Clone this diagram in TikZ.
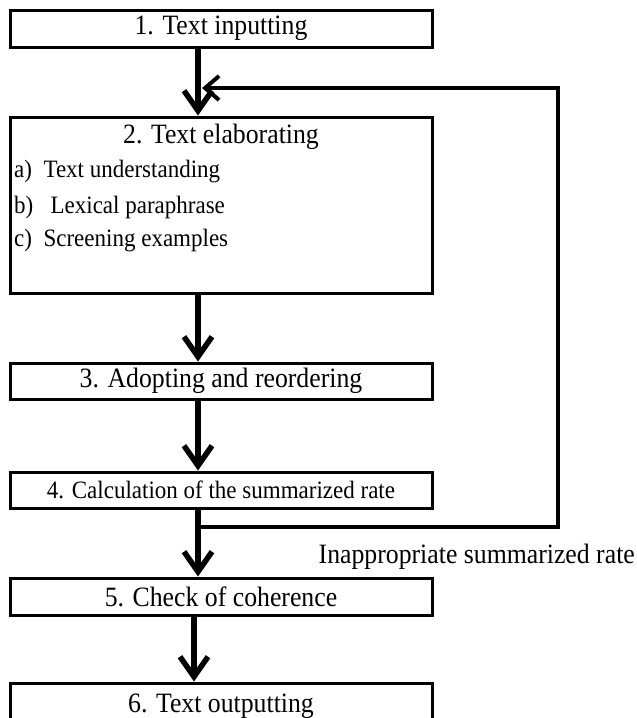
\documentclass[tikz,border=0pt]{standalone}
\usepackage{fontspec}
\setmainfont[FakeStretch=0.92]{Liberation Serif}
\usetikzlibrary{arrows.meta}
\tikzset{
  big/.style={font=\fontsize{28}{32}\selectfont},
  small/.style={font=\fontsize{25}{28}\selectfont},
  box/.style={draw, line width=3pt, rectangle, minimum width=422pt, inner sep=0pt, big},
  flow/.style={line width=5.5pt, -{Straight Barb[length=20pt,width=28pt]}},
  back/.style={line width=4pt},
  item/.style={anchor=west, inner sep=0pt, small},
}
\begin{document}
\begin{tikzpicture}[x=1pt,y=-1pt]
\useasboundingbox (0,0) rectangle (637,718);
\node[box, minimum height=37pt] (b1) at (221,28.5) {1. Text inputting};
\node[box, minimum height=176pt] (b2) at (221,205) {};
\node[inner sep=0pt, big] (t2) at (221,137) {2. Text elaborating};
\node[item] (ia) at (14,172) {a)\ \ Text understanding};
\node[item] (ib) at (14,207) {b)\ \ \ Lexical paraphrase};
\node[item] (ic) at (14,241) {c)\ \ Screening examples};
\node[box, minimum height=36pt] (b3) at (221,381) {3. Adopting and reordering};
\node[box, minimum height=36pt, small] (b4) at (221,490) {4. Calculation of the summarized rate};
\node[box, minimum height=37pt] (b5) at (221,596.5) {5. Check of coherence};
\node[draw, line width=3pt, minimum width=422pt, minimum height=60pt, inner sep=0pt] (b6) at (221,713) {};
\node[big, inner sep=0pt] (t6) at (221,706) {6. Text outputting};
\node[anchor=east, inner sep=0pt, big] (lab) at (635,557) {Inappropriate summarized rate};
\coordinate (c) at (198,0);
\coordinate (c6) at (194,0);
\coordinate (fb) at (558,88);
\coordinate (fbend) at (202,88);
\coordinate (br) at (198,527);
\draw[flow] (b1.south -| c) -- (b2.north -| c);
\draw[flow] (b2.south -| c) -- (b3.north -| c);
\draw[flow] (b3.south -| c) -- (b4.north -| c);
\draw[flow] (b4.south -| c) -- (b5.north -| c);
\draw[flow] (b5.south -| c6) -- (b6.north -| c6);
\draw[back, -{Straight Barb[length=14pt,width=24pt]}] (br) -- (br -| fb) -- (fb) -- (fbend);
\end{tikzpicture}
\end{document}
